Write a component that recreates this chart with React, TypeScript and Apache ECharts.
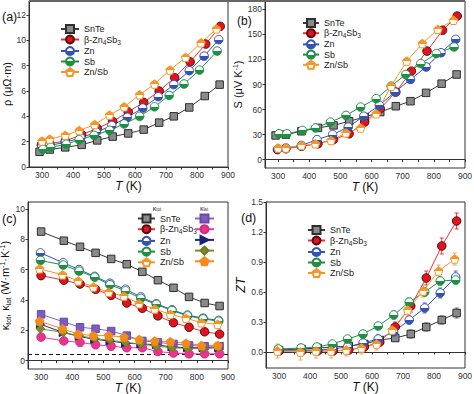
import React, { useEffect, useRef } from 'react';
import * as echarts from 'echarts';

const FONT = '"Liberation Sans", Arial, Helvetica, sans-serif';

const NAMES = ['SnTe', 'β-Zn4Sb3', 'Zn', 'Sb', 'Zn/Sb'];
const LAT_NAMES = ['SnTe lat', 'β-Zn4Sb3 lat', 'Zn lat', 'Sb lat', 'Zn/Sb lat'];

const X_LABELS = [300, 400, 500, 600, 700, 800, 900];
const X_TICKS = [300, 350, 400, 450, 500, 550, 600, 650, 700, 750, 800, 850, 900];
const A_Y_LABELS = [0, 2, 4, 6, 8, 10, 12];
const B_Y_LABELS = [0, 30, 60, 90, 120, 150, 180];
const C_Y_LABELS = [0, 2, 4, 6, 8, 10];
const D_Y_LABELS = [0, 0.3, 0.6, 0.9, 1.2, 1.5];

// measurement temperatures (K), panels a & b
const T_SNTE = [292, 325, 375, 428, 478, 528, 578, 628, 678, 725, 775, 825, 873];
const T_BZS = [298, 325, 375, 428, 478, 528, 578, 628, 678, 728, 778, 828, 875];
const T_ZN = [300, 325, 375, 425, 475, 525, 575, 625, 675, 725, 775, 823, 870];
const T_SB = [303, 328, 378, 420, 468, 518, 565, 615, 663, 710, 758, 808, 865];
const T_ZNSB = [300, 325, 375, 420, 470, 518, 565, 615, 663, 713, 763, 813, 863];

// panel a: resistivity (μΩ·m)
const RHO_SNTE = [1.2, 1.38, 1.55, 1.75, 2.1, 2.4, 2.65, 2.95, 3.5, 4.0, 4.7, 5.6, 6.5];
const RHO_BZS = [1.75, 1.85, 2.05, 2.55, 3.05, 3.6, 4.35, 5.1, 6.0, 7.05, 8.3, 9.7, 11.1];
const RHO_ZN = [1.6, 1.7, 1.95, 2.3, 2.75, 3.27, 3.92, 4.65, 5.55, 6.5, 7.6, 8.75, 10.05];
const RHO_SB = [1.4, 1.55, 1.8, 2.15, 2.5, 2.9, 3.4, 4.0, 4.75, 5.65, 6.55, 7.65, 9.15];
const RHO_ZNSB = [2.05, 2.2, 2.5, 2.88, 3.35, 4.1, 4.75, 5.7, 6.55, 7.65, 8.65, 9.8, 10.9];

// panel b: Seebeck (μV/K)
const S_SNTE = [29, 30, 34, 38, 41, 46, 51, 57, 64, 70, 80, 91, 102];
const S_BZS = [12, 13, 16, 19, 24, 31, 45, 61, 81, 106, 130, 155, 172];
const S_ZN = [13, 14, 17, 24, 30, 39, 52, 65, 81, 96, 111, 128, 144];
const S_SB = [31, 31, 35, 38, 45, 53, 63, 73, 88, 102, 115, 127, 135];
const S_ZNSB = [14, 14, 17, 19, 23, 32, 38, 55, 88, 118, 139, 156, 167];

// temperatures (K), panels c & d
const T2_A = [300, 373, 425, 475, 525, 575, 625, 675, 725, 775, 825, 873];
const T2_B = [298, 371, 422, 472, 521, 571, 620, 670, 720, 770, 820, 870];
const T2_C = [295, 369, 419, 468, 517, 566, 615, 665, 715, 765, 815, 867];

// panel c: thermal conductivity (W m-1 K-1)
const KT_SNTE = [8.5, 7.9, 7.5, 7.1, 6.7, 6.35, 5.85, 5.3, 4.8, 4.2, 3.8, 3.6];
const KT_BZS = [5.6, 5.3, 5.05, 4.7, 4.3, 3.8, 3.45, 2.95, 2.5, 2.2, 1.9, 1.75];
const KT_ZN = [7.1, 6.45, 6.0, 5.55, 5.1, 4.7, 4.2, 3.75, 3.35, 3.0, 2.8, 2.65];
const KT_SB = [6.6, 6.3, 5.9, 5.5, 5.0, 4.6, 4.1, 3.7, 3.3, 2.95, 2.75, 2.6];
const KT_ZNSB = [6.05, 5.65, 5.25, 4.85, 4.5, 4.25, 3.75, 3.4, 3.05, 2.8, 2.5, 2.4];
const KL_SNTE = [3.05, 2.55, 2.2, 2.1, 1.95, 1.65, 1.3, 1.2, 1.1, 1.0, 0.95, 0.95];
const KL_BZS = [1.55, 1.3, 1.2, 1.05, 0.95, 0.85, 0.85, 0.6, 0.5, 0.45, 0.45, 0.45];
const KL_ZN = [2.4, 1.85, 1.6, 1.4, 1.3, 1.15, 1.1, 1.05, 0.9, 0.85, 0.85, 0.85];
const KL_SB = [2.1, 1.85, 1.65, 1.45, 1.35, 1.2, 1.1, 0.95, 0.85, 0.8, 0.8, 0.85];
const KL_ZNSB = [2.6, 2.1, 1.75, 1.65, 1.65, 1.55, 1.4, 1.3, 1.25, 1.15, 1.0, 1.0];
const K_MIN = 0.4;

// panel d: ZT and its error
const ZT_SNTE = [0.02, 0.03, 0.04, 0.05, 0.06, 0.08, 0.12, 0.14, 0.18, 0.25, 0.32, 0.39];
const ZT_BZS = [0.01, 0.01, 0.01, 0.01, 0.02, 0.05, 0.1, 0.25, 0.46, 0.74, 1.06, 1.31];
const ZT_ZN = [0.02, 0.02, 0.02, 0.03, 0.05, 0.09, 0.13, 0.2, 0.32, 0.44, 0.59, 0.75];
const ZT_SB = [0.03, 0.04, 0.05, 0.08, 0.13, 0.18, 0.26, 0.37, 0.5, 0.6, 0.71, 0.72];
const ZT_ZNSB = [0.01, 0.0, 0.01, 0.01, 0.02, 0.04, 0.08, 0.22, 0.42, 0.61, 0.81, 0.93];
const ER_SNTE = [0.03, 0.03, 0.03, 0.03, 0.03, 0.03, 0.03, 0.03, 0.04, 0.04, 0.04, 0.05];
const ER_BZS = [0.03, 0.03, 0.03, 0.03, 0.03, 0.04, 0.04, 0.05, 0.06, 0.07, 0.08, 0.08];
const ER_ZN = [0.03, 0.03, 0.03, 0.03, 0.04, 0.04, 0.04, 0.04, 0.04, 0.05, 0.05, 0.06];
const ER_SB = [0.03, 0.03, 0.03, 0.03, 0.03, 0.03, 0.03, 0.04, 0.04, 0.04, 0.04, 0.04];
const ER_ZNSB = [0.07, 0.08, 0.07, 0.07, 0.06, 0.06, 0.06, 0.05, 0.05, 0.06, 0.06, 0.06];

const PENTAGON = 'path://M0,-10L9.51,-3.09L5.88,8.09L-5.88,8.09L-9.51,-3.09Z';
const TRI_RIGHT = 'path://M0,0L10,5L0,10Z';

function half(top: string, bottom: string) {
  return new echarts.graphic.LinearGradient(0, 0, 0, 1, [
    { offset: 0, color: top },
    { offset: 0.5, color: top },
    { offset: 0.5, color: bottom },
    { offset: 1, color: bottom },
  ]);
}

function makeStyles(): Record<string, any> {
  return {
    SnTe: { line: '#3a3a3a', fill: '#8a8a8a', border: '#2e2e2e', symbol: 'rect', size: 7.5 },
    'β-Zn4Sb3': { line: '#e8303a', fill: '#e0141e', border: '#5a0c0c', symbol: 'circle', size: 8.5 },
    Zn: { line: '#3553b5', fill: half('#ffffff', '#3553b5'), border: '#3553b5', symbol: 'circle', size: 8.5 },
    Sb: { line: '#1f8f45', fill: half('#ffffff', '#1f8f45'), border: '#1f8f45', symbol: 'circle', size: 8.5 },
    'Zn/Sb': { line: '#f5962a', fill: half('#f5962a', '#ffffff'), border: '#f5962a', symbol: PENTAGON, size: 8.5 },
    'SnTe lat': { line: '#8566c4', fill: '#7d5bbf', border: '#6a4aa8', symbol: 'rect', size: 7.5 },
    'β-Zn4Sb3 lat': { line: '#ec3c94', fill: '#e8368f', border: '#d8287f', symbol: 'circle', size: 8.5 },
    'Zn lat': { line: '#1d2a82', fill: '#1a2378', border: '#1a2378', symbol: TRI_RIGHT, size: 8 },
    'Sb lat': { line: '#7f8c2e', fill: '#7d8a2a', border: '#6d7a20', symbol: 'diamond', size: 8.5 },
    'Zn/Sb lat': { line: '#f38a1c', fill: '#f38a1c', border: '#f38a1c', symbol: PENTAGON, size: 8.5 },
  };
}

function lineSeries(st: any, name: string, idx: number, xs: number[], ys: number[], extra: any = {}) {
  const s = st[name];
  return {
    type: 'line',
    name,
    xAxisIndex: idx,
    yAxisIndex: idx,
    data: xs.map((x, i) => [x, ys[i]]),
    symbol: s.symbol,
    symbolSize: s.size,
    showAllSymbol: true,
    lineStyle: { color: s.line, width: 1 },
    itemStyle: { color: s.fill, borderColor: s.border, borderWidth: 1 },
    emphasis: { disabled: true },
    z: 3,
    ...extra,
  };
}

function errSeries(color: string, idx: number, xs: number[], ys: number[], es: number[]) {
  return {
    type: 'custom',
    xAxisIndex: idx,
    yAxisIndex: idx,
    silent: true,
    z: 1,
    encode: { x: 0, y: 1 },
    data: xs.map((x, i) => [x, ys[i], es[i]]),
    renderItem: (_p: any, api: any) => {
      const x = api.value(0);
      const y = api.value(1);
      const e = api.value(2);
      const t = api.coord([x, y + e]);
      const b = api.coord([x, y - e]);
      const w = 2;
      const style = { stroke: color, lineWidth: 1 };
      return {
        type: 'group',
        children: [
          { type: 'line', shape: { x1: t[0], y1: t[1], x2: b[0], y2: b[1] }, style },
          { type: 'line', shape: { x1: t[0] - w, y1: t[1], x2: t[0] + w, y2: t[1] }, style },
          { type: 'line', shape: { x1: b[0] - w, y1: b[1], x2: b[0] + w, y2: b[1] }, style },
        ],
      };
    },
  };
}

const SUBRICH = {
  sub: { fontSize: 6.5, fontFamily: FONT, color: '#222', lineHeight: 10, verticalAlign: 'top', padding: [4, 0, 0, 0] },
};

function legendFormatter(name: string) {
  if (name === 'β-Zn4Sb3') return 'β-Zn{sub|4}Sb{sub|3}';
  return name;
}

function legend(left: number, top: number, itemWidth: number, gap: number, data: string[], blank = false) {
  return {
    orient: 'vertical',
    left,
    top,
    itemWidth,
    itemHeight: 10,
    itemGap: gap,
    padding: 0,
    selectedMode: false,
    data,
    formatter: blank ? () => '' : legendFormatter,
    textStyle: { fontSize: 9, lineHeight: 10, color: '#222', fontFamily: FONT, rich: SUBRICH },
  };
}

function xAxis(gi: number) {
  const bottom = gi >= 2;
  return {
    type: 'value',
    gridIndex: gi,
    min: 258,
    max: 900,
    name: '{i|T} (K)',
    nameLocation: 'middle',
    nameGap: bottom ? 11 : 12,
    nameTextStyle: {
      fontSize: 12,
      lineHeight: 12,
      color: '#111',
      fontFamily: FONT,
      rich: { i: { fontStyle: 'italic', fontSize: 12, lineHeight: 12, fontFamily: FONT, color: '#111' } },
    },
    axisLine: { show: true, lineStyle: { color: '#333', width: 1 } },
    axisTick: { show: true, length: 2.5, inside: false, customValues: X_TICKS, lineStyle: { color: '#333' } },
    axisLabel: { customValues: X_LABELS, fontSize: 8.5, color: '#333', margin: 3.5, fontFamily: FONT },
    splitLine: { show: false },
  };
}

function yAxis(gi: number, min: number, max: number, labels: number[], name: string, gap: number, rich: any, fmt?: (v: number) => string) {
  return {
    type: 'value',
    gridIndex: gi,
    min,
    max,
    name,
    nameLocation: 'middle',
    nameGap: gap,
    nameRotate: 90,
    nameTextStyle: { fontSize: 11, color: '#111', fontFamily: FONT, lineHeight: 12, rich },
    axisLine: { show: true, lineStyle: { color: '#333', width: 1 } },
    axisTick: { show: true, length: 2.5, inside: false, customValues: labels, lineStyle: { color: '#333' } },
    axisLabel: { customValues: labels, fontSize: 8.5, color: '#333', margin: 3, fontFamily: FONT, formatter: fmt },
    splitLine: { show: false },
  };
}

function grid(left: number, top: number, width: number, height: number) {
  return { left, top, width, height, show: true, borderColor: '#333', borderWidth: 1, containLabel: false, outerBoundsMode: 'none' };
}

function buildOption() {
  const st = makeStyles();
  const supRich = {
    sup: { fontSize: 7, fontFamily: FONT, color: '#111', lineHeight: 12, verticalAlign: 'top', padding: [0, 0, 0, 0] },
    sub: { fontSize: 7, fontFamily: FONT, color: '#111', lineHeight: 12, verticalAlign: 'top', padding: [6, 0, 0, 0] },
    i: { fontStyle: 'italic', fontSize: 12.5, fontFamily: FONT, color: '#111' },
  };
  const series: any[] = [
    lineSeries(st, 'SnTe', 0, T_SNTE, RHO_SNTE),
    lineSeries(st, 'β-Zn4Sb3', 0, T_BZS, RHO_BZS),
    lineSeries(st, 'Zn', 0, T_ZN, RHO_ZN),
    lineSeries(st, 'Sb', 0, T_SB, RHO_SB),
    lineSeries(st, 'Zn/Sb', 0, T_ZNSB, RHO_ZNSB),

    lineSeries(st, 'SnTe', 1, T_SNTE, S_SNTE),
    lineSeries(st, 'β-Zn4Sb3', 1, T_BZS, S_BZS),
    lineSeries(st, 'Zn', 1, T_ZN, S_ZN),
    lineSeries(st, 'Sb', 1, T_SB, S_SB),
    lineSeries(st, 'Zn/Sb', 1, T_ZNSB, S_ZNSB),

    lineSeries(st, 'SnTe', 2, T2_A, KT_SNTE),
    lineSeries(st, 'β-Zn4Sb3', 2, T2_A, KT_BZS),
    lineSeries(st, 'Zn', 2, T2_B, KT_ZN),
    lineSeries(st, 'Sb', 2, T2_B, KT_SB),
    lineSeries(st, 'Zn/Sb', 2, T2_C, KT_ZNSB),
    lineSeries(st, 'SnTe lat', 2, T2_A, KL_SNTE, {
      markLine: {
        silent: true,
        symbol: 'none',
        label: { show: false },
        lineStyle: { type: [4, 3], color: '#111', width: 1 },
        data: [{ yAxis: K_MIN }],
        z: 1,
      },
    }),
    lineSeries(st, 'β-Zn4Sb3 lat', 2, T2_A, KL_BZS),
    lineSeries(st, 'Zn lat', 2, T2_B, KL_ZN),
    lineSeries(st, 'Sb lat', 2, T2_B, KL_SB),
    lineSeries(st, 'Zn/Sb lat', 2, T2_C, KL_ZNSB),

    errSeries('#666', 3, T2_A, ZT_SNTE, ER_SNTE),
    errSeries('#e8303a', 3, T2_A, ZT_BZS, ER_BZS),
    errSeries('#5a73c8', 3, T2_B, ZT_ZN, ER_ZN),
    errSeries('#3aa35c', 3, T2_B, ZT_SB, ER_SB),
    errSeries('#f7a070', 3, T2_C, ZT_ZNSB, ER_ZNSB),
    lineSeries(st, 'SnTe', 3, T2_A, ZT_SNTE),
    lineSeries(st, 'β-Zn4Sb3', 3, T2_A, ZT_BZS),
    lineSeries(st, 'Zn', 3, T2_B, ZT_ZN),
    lineSeries(st, 'Sb', 3, T2_B, ZT_SB),
    lineSeries(st, 'Zn/Sb', 3, T2_C, ZT_ZNSB),
  ];

  const panelLabel = (text: string, x: number, y: number, size = 12.5) => ({
    type: 'text',
    x,
    y,
    style: { text, fontSize: size, fontFamily: FONT, fill: '#111', textVerticalAlign: 'middle' },
  });

  const kRich = {
    k: { fontSize: 7, fontFamily: FONT, fill: '#333', lineHeight: 8 },
    s: { fontSize: 4.5, fontFamily: FONT, fill: '#333', lineHeight: 8, verticalAlign: 'top', padding: [3, 0, 0, 0] },
  };

  return {
    animation: false,
    backgroundColor: '#ffffff',
    textStyle: { fontFamily: FONT },
    grid: [grid(29, 1, 199, 166), grid(265, 1, 200, 167), grid(28, 202, 200, 167), grid(266, 202, 199, 166)],
    xAxis: [xAxis(0), xAxis(1), xAxis(2), xAxis(3)],
    yAxis: [
      yAxis(0, 0, 13.1, A_Y_LABELS, 'ρ (μΩ·m)', 13.5, supRich),
      yAxis(1, -10, 190, B_Y_LABELS, 'S (μV K{sup|-1})', 16, supRich),
      yAxis(2, -0.55, 10.45, C_Y_LABELS, 'κ{sub|tot}, κ{sub|lat} (W·m{sup|-1}·K{sup|-1})', 15, supRich),
      yAxis(3, -0.16, 1.5, D_Y_LABELS, '{i|ZT}', 13, supRich, (v: number) => v.toFixed(1)),
    ],
    legend: [
      legend(60, 24, 18, 0.5, NAMES),
      legend(302, 18, 16, 0.2, NAMES),
      legend(137, 213.5, 17, 0.7, NAMES),
      legend(194, 213.5, 19, 0.7, LAT_NAMES, true),
      legend(307, 225, 17, 0.5, NAMES),
    ],
    graphic: [
      { type: 'rect', shape: { x: 29, y: 0, width: 436, height: 2 }, style: { fill: '#666' }, z: 10 },
      panelLabel('(a)', 2, 16.5),
      panelLabel('(b)', 237, 21, 12),
      panelLabel('(c)', 2, 219),
      panelLabel('(d)', 241, 218),
      {
        type: 'text',
        x: 157,
        y: 208,
        style: { text: '{k|κ}{s|tot}', fontFamily: FONT, align: 'center', verticalAlign: 'middle', rich: kRich },
      },
      {
        type: 'text',
        x: 204,
        y: 208,
        style: { text: '{k|κ}{s|lat}', fontFamily: FONT, align: 'center', verticalAlign: 'middle', rich: kRich },
      },
    ],
    series,
  };
}

export default function App() {
  const ref = useRef<HTMLDivElement>(null);
  useEffect(() => {
    if (!ref.current) return;
    const chart = echarts.init(ref.current, null, { renderer: 'svg' });
    chart.setOption(buildOption() as any);
    return () => chart.dispose();
  }, []);
  return (
    <div
      ref={ref}
      style={{ position: 'absolute', left: 0, top: 0, width: 474, height: 394, background: '#fff' }}
    />
  );
}
